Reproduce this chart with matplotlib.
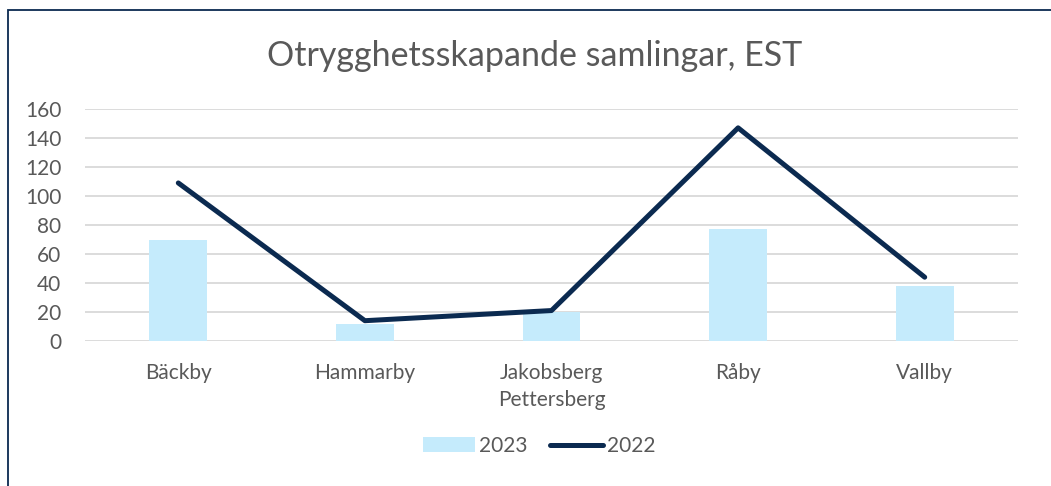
import matplotlib
matplotlib.use('Agg')
import matplotlib.pyplot as plt
from matplotlib.patches import Rectangle
from matplotlib.lines import Line2D
from matplotlib.patches import Patch

categories = ['Bäckby', 'Hammarby', 'Jakobsberg\nPettersberg', 'Råby', 'Vallby']
values_2023 = [70, 12, 20, 77, 38]
values_2022 = [109, 14, 21, 147, 44]
yticks = [0, 20, 40, 60, 80, 100, 120, 140, 160]

bar_color = '#C5EBFC'
line_color = '#0B2A50'
text_color = '#595959'
grid_color = '#D9D9D9'

plt.rcParams['font.family'] = ['Lato', 'DejaVu Sans']

fig = plt.figure(figsize=(10.51, 4.86), dpi=100)
ax = fig.add_axes([85 / 1051, 1 - 341 / 486, 933 / 1051, 232 / 486])

x = list(range(len(categories)))
ax.bar(x, values_2023, width=0.31, color=bar_color, zorder=2)
ax.plot(x, values_2022, color=line_color, linewidth=3.6,
        solid_capstyle='round', solid_joinstyle='round', zorder=3)

ax.set_xlim(-0.5, len(categories) - 0.5)
ax.set_ylim(0, 160)
ax.set_yticks(yticks)
ax.set_xticks(x)
ax.set_xticklabels(categories, fontsize=15, color=text_color, linespacing=1.45)
ax.tick_params(axis='y', labelsize=15, labelcolor=text_color, length=0, pad=17)
ax.tick_params(axis='x', length=0, pad=16)
ax.grid(axis='y', color=grid_color, linewidth=1.3, zorder=0)
for s in ax.spines.values():
    s.set_visible(False)

fig.text(535 / 1051, 1 - 56 / 486, 'Otrygghetsskapande samlingar, EST',
         ha='center', va='center', fontsize=24.5, color=text_color)

handles = [Patch(facecolor=bar_color, edgecolor='none'),
           Line2D([0], [0], color=line_color, linewidth=3.6, solid_capstyle='round')]
fig.legend(handles, ['2023', '2022'], loc='center', bbox_to_anchor=(539 / 1051, 1 - 446 / 486),
           ncol=2, frameon=False, fontsize=15, labelcolor=text_color,
           handlelength=2.5, handletextpad=0.2, columnspacing=1.1)

fig.patches.append(Rectangle((8 / 1051, -0.1), 1.2, 1 - 10 / 486 + 0.1,
                             transform=fig.transFigure, fill=False,
                             edgecolor='#0B2A50', linewidth=1.3))

fig.savefig('out.png', dpi=100)
